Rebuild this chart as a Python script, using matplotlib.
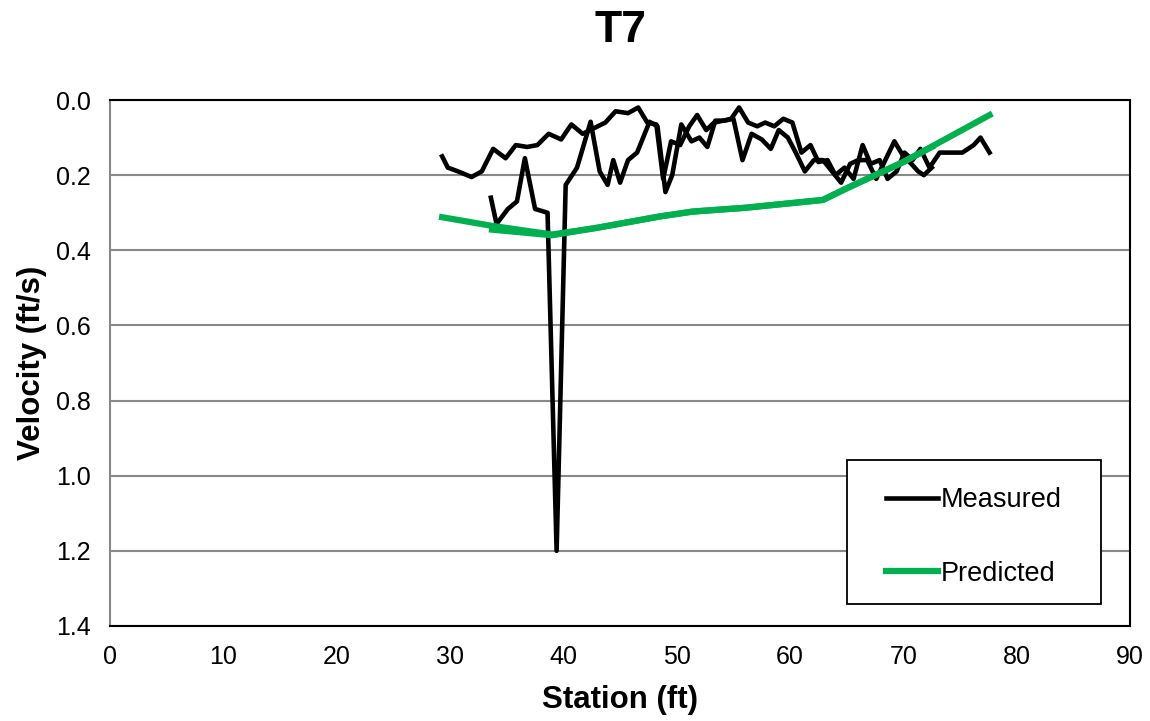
import matplotlib.pyplot as plt
from matplotlib.patches import Rectangle
import numpy as np

plt.rcParams['font.family'] = ['Liberation Sans', 'DejaVu Sans']

# measured, pass 1
x_meas1 = [29.3, 29.8, 30.7, 31.9, 32.8, 33.8, 34.9, 35.8, 36.8, 37.7, 38.7, 39.8,
           40.7, 41.7, 42.7, 43.7, 44.6, 45.7, 46.6, 47.4, 48.2, 48.8, 49.5, 50.3,
           51.1, 51.8, 52.6, 53.3, 54.1, 54.8, 55.5, 56.3, 57.1, 57.8, 58.6, 59.4,
           60.2, 61.0, 61.8, 62.5, 63.3, 64.0, 64.8, 65.6, 66.4, 67.1, 67.9, 68.6,
           69.4, 70.1, 70.8, 71.5, 72.3, 73.2, 74.2, 75.2, 76.2, 76.8, 77.6]
v_meas1 = [0.15, 0.18, 0.19, 0.205, 0.19, 0.13, 0.155, 0.12, 0.125, 0.12, 0.09, 0.105,
           0.065, 0.09, 0.075, 0.06, 0.03, 0.035, 0.02, 0.06, 0.065, 0.21, 0.11, 0.12,
           0.07, 0.04, 0.08, 0.06, 0.055, 0.05, 0.02, 0.06, 0.07, 0.06, 0.07, 0.05,
           0.06, 0.14, 0.12, 0.165, 0.16, 0.2, 0.18, 0.21, 0.12, 0.17, 0.16, 0.21,
           0.19, 0.14, 0.16, 0.13, 0.18, 0.14, 0.14, 0.14, 0.12, 0.10, 0.14]

# measured, pass 2
x_meas2 = [33.6, 34.1, 35.1, 35.9, 36.6, 37.5, 38.6, 39.4, 40.2, 41.2, 42.4, 43.2,
           43.9, 44.4, 45.0, 45.7, 46.5, 47.6, 48.3, 49.0, 49.6, 50.4, 51.3, 52.0,
           52.7, 53.4, 54.2, 55.0, 55.8, 56.6, 57.5, 58.3, 59.0, 59.8, 60.5, 61.3,
           62.1, 62.9, 63.7, 64.5, 65.3, 66.0, 66.8, 67.6, 68.4, 69.2, 70.0, 70.7,
           71.3, 71.8, 72.5]
v_meas2 = [0.26, 0.33, 0.29, 0.27, 0.155, 0.29, 0.30, 1.20, 0.226, 0.18, 0.058, 0.19,
           0.226, 0.16, 0.22, 0.16, 0.14, 0.058, 0.07, 0.245, 0.20, 0.065, 0.11, 0.10,
           0.125, 0.055, 0.055, 0.05, 0.16, 0.09, 0.105, 0.13, 0.08, 0.10, 0.14, 0.19,
           0.16, 0.16, 0.19, 0.22, 0.17, 0.16, 0.16, 0.21, 0.16, 0.11, 0.15, 0.17,
           0.19, 0.20, 0.18]

# predicted
x_pred1 = [29.3, 33.7, 39.0, 43.0, 48.5, 51.4, 56.0, 62.9, 65.0, 70.0, 77.6]
v_pred1 = [0.312, 0.335, 0.358, 0.34, 0.31, 0.297, 0.287, 0.266, 0.235, 0.165, 0.04]
x_pred2 = [33.7, 39.0, 43.0, 48.5, 51.4, 56.0, 62.9, 65.0, 70.0, 72.5]
v_pred2 = [0.345, 0.36, 0.34, 0.31, 0.297, 0.287, 0.266, 0.235, 0.165, 0.125]

fig = plt.figure(figsize=(11.5, 7.21), dpi=100)
ax = fig.add_axes([0.0957, 0.1318, 0.887, 0.7295])

ax.grid(axis='y', color='#888888', linewidth=1.5, zorder=0)
ax.plot(x_meas1, v_meas1, color='black', linewidth=3.3, label='Measured', zorder=3)
ax.plot(x_meas2, v_meas2, color='black', linewidth=3.3, zorder=3)
ax.plot(x_pred1, v_pred1, color='#00b050', linewidth=4.5, label='Predicted', zorder=4)
ax.plot(x_pred2, v_pred2, color='#00b050', linewidth=4.5, zorder=4)

ax.set_xlim(0, 90)
ax.set_ylim(1.4, 0.0)
ax.set_xticks(np.arange(0, 91, 10))
ax.set_yticks(np.arange(0, 1.41, 0.2))
ax.yaxis.set_major_formatter(plt.FormatStrFormatter('%.1f'))
ax.tick_params(labelsize=18, length=0, pad=14)
for s in ax.spines.values():
    s.set_linewidth(1.5)
    s.set_color('black')
ax.spines['left'].set_color('#888888')

ax.set_xlabel('Station (ft)', fontsize=22.5, fontweight='bold', labelpad=11)
ax.set_ylabel('Velocity (ft/s)', fontsize=22.5, fontweight='bold', labelpad=6)
ax.set_title('T7', fontsize=32, fontweight='bold', pad=42)

# legend box
box = (0.7225, 0.042, 0.249, 0.274)
ax.add_patch(Rectangle(box[:2], box[2], box[3], transform=ax.transAxes,
                       facecolor='white', edgecolor='black', linewidth=1.3, zorder=5))
leg = ax.legend(loc='center', bbox_to_anchor=(box[0], box[1] - 0.01, box[2], box[3]),
                borderaxespad=0, fontsize=19.5, handlelength=1.9, handletextpad=0.1,
                labelspacing=1.75, frameon=False)
leg.set_zorder(6)

fig.savefig('out.png', dpi=100)
